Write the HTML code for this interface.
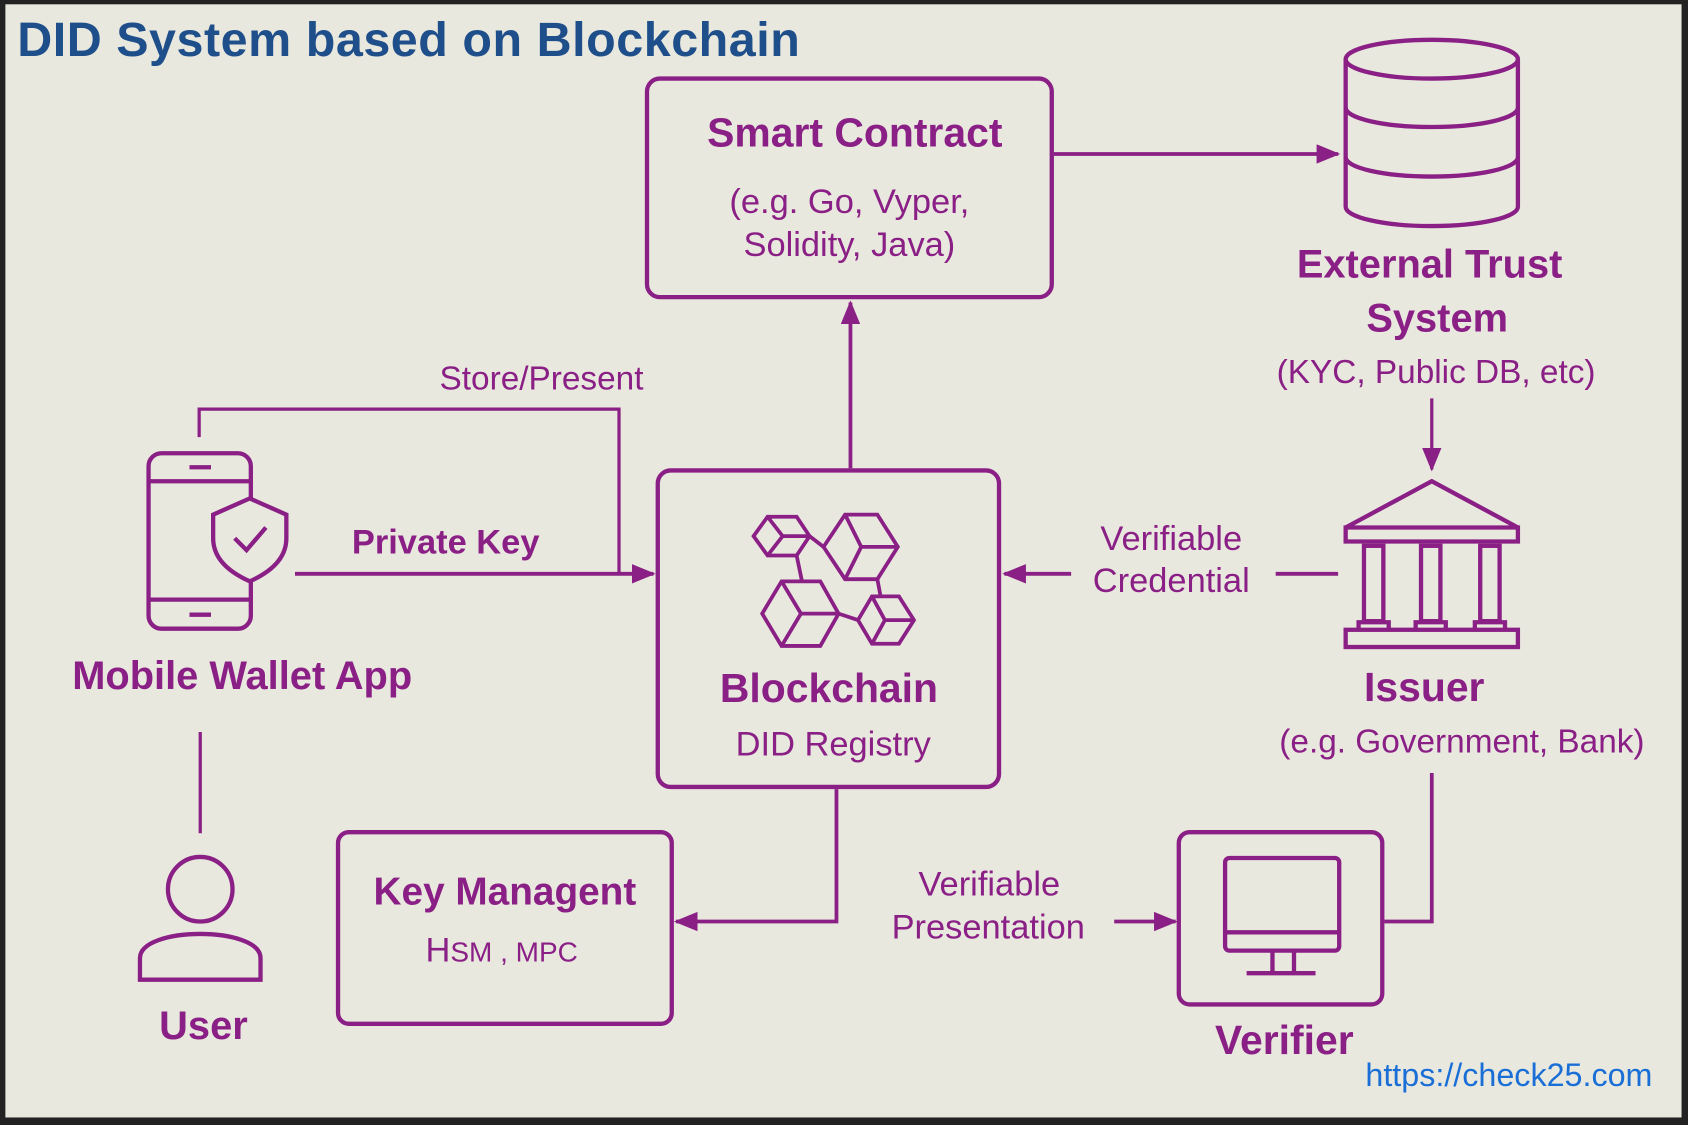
<!DOCTYPE html>
<html><head><meta charset="utf-8"><style>
html,body{margin:0;padding:0;background:#1a1a1a;}
svg{display:block;}
text{font-family:"Liberation Sans",sans-serif;}
</style></head><body>
<svg width="1688" height="1125" viewBox="0 0 1568 1045" preserveAspectRatio="none" xmlns="http://www.w3.org/2000/svg">
<defs>
<marker id="b" markerWidth="22" markerHeight="18" refX="20" refY="9" orient="auto" markerUnits="userSpaceOnUse"><path d="M0,0 L22,9 L0,18 Z" fill="#8a1f85"/></marker></defs>
<rect x="0" y="0" width="1568" height="1045" fill="#222"/>
<rect x="5" y="4" width="1557" height="1034" fill="#e9e8df"/>
<text x="16" y="52" font-size="45" font-weight="bold" fill="#1f4f8a" textLength="727" lengthAdjust="spacing">DID System based on Blockchain</text>
<g fill="none" stroke="#8a1f85" stroke-width="4">
<rect x="601" y="73" width="376" height="203" rx="12"/>
<rect x="611" y="437" width="317" height="294" rx="12"/>
<rect x="314" y="773" width="310" height="178" rx="10"/>
<rect x="1095" y="773" width="189" height="160" rx="10"/>
<ellipse cx="1330" cy="55" rx="80" ry="18"/>
<path d="M1250,55 V192 A80,18 0 0 0 1410,192 V55"/>
<path d="M1250,100 A80,18 0 0 0 1410,100 M1250,146 A80,18 0 0 0 1410,146"/>
<rect x="138" y="421" width="95" height="163" rx="12"/>
<path d="M138,447 H233 M138,557 H233 M176,434 H196 M176,571 H196"/>
<path d="M232,463 L266,478 V500 C266,520 250,532 232,540 C214,532 198,520 198,500 V478 Z" fill="#e9e8df"/>
<path d="M218,500 L229,511 L247,490"/>
<circle cx="186" cy="826" r="30"/>
<path d="M130,910 V890 C130,860 242,860 242,890 V910 Z"/>
<path d="M1250,490 L1330,447 L1410,490 Z M1250,490 H1410 V503 H1250 Z"/>
<rect x="1267" y="507" width="18" height="70"/><rect x="1320" y="507" width="18" height="70"/><rect x="1375" y="507" width="18" height="70"/>
<rect x="1250" y="585" width="160" height="16"/>
<path d="M1262,585 V578 H1290 V585 M1315,585 V578 H1343 V585 M1370,585 V578 H1398 V585"/>
<rect x="1138" y="797" width="106" height="86" rx="4"/>
<path d="M1138,866 H1244 M1182,883 V903 M1202,883 V903 M1158,904 H1222"/>
<g stroke-width="3.5">
<path d="M700,498 L713,480 L740,480 L752,498 L740,516 L713,516 Z M713,480 L727,498 L752,498 M727,498 L713,516"/>
<path d="M765,508 L785,478 L815,478 L834,508 L815,538 L785,538 Z M785,478 L800,508 L834,508 M800,508 L785,538"/>
<path d="M708,570 L726,540 L762,540 L779,570 L762,600 L726,600 Z M726,540 L744,570 L779,570 M744,570 L726,600"/>
<path d="M797,576 L810,554 L835,554 L849,576 L835,598 L810,598 Z M810,554 L822,576 L849,576 M822,576 L810,598"/>
<path d="M752,498 L765,508 M740,516 L745,540 M779,570 L797,576 M815,538 L818,554"/>
</g>
<path d="M979,143 H1243" marker-end="url(#b)" stroke-width="3.5"/>
<path d="M790,435 V281" marker-end="url(#b)" stroke-width="3.5"/>
<path d="M185,406 V380 H575 V532" stroke-width="3"/>
<path d="M274,533 H607" marker-end="url(#b)" stroke-width="3.5"/>
<path d="M1330,370 V436" marker-end="url(#b)" stroke-width="3"/>
<path d="M995,533 H933" marker-end="url(#b)" stroke-width="3.5"/>
<path d="M1185,533 H1243" stroke-width="3.5"/>
<path d="M186,680 V774" stroke-width="3"/>
<path d="M777,733 V856 H628" marker-end="url(#b)" stroke-width="3.5"/>
<path d="M1035,856 H1092" marker-end="url(#b)" stroke-width="3.5"/>
<path d="M1330,718 V856 H1286" stroke-width="3.5"/>
</g>
<g fill="#8a1f85" text-anchor="middle">
<text x="794" y="136" font-size="38" font-weight="bold">Smart Contract</text>
<text x="789" y="198" font-size="32">(e.g. Go, Vyper,</text>
<text x="789" y="238" font-size="32">Solidity, Java)</text>
<text x="1328" y="258" font-size="37" font-weight="bold">External Trust</text>
<text x="1335" y="308" font-size="37" font-weight="bold">System</text>
<text x="1334" y="356" font-size="31">(KYC, Public DB, etc)</text>
<text x="503" y="362" font-size="31">Store/Present</text>
<text x="414" y="514" font-size="32" font-weight="bold">Private Key</text>
<text x="225" y="640" font-size="37" font-weight="bold">Mobile Wallet App</text>
<text x="770" y="652" font-size="38" font-weight="bold">Blockchain</text>
<text x="774" y="702" font-size="32">DID Registry</text>
<text x="1088" y="511" font-size="32">Verifiable</text>
<text x="1088" y="550" font-size="32">Credential</text>
<text x="1323" y="651" font-size="38" font-weight="bold">Issuer</text>
<text x="1358" y="699" font-size="31">(e.g. Government, Bank)</text>
<text x="469" y="840" font-size="36" font-weight="bold">Key Managent</text>
<text x="466" y="893" font-size="32">H<tspan font-size="26">SM , MPC</tspan></text>
<text x="919" y="832" font-size="32">Verifiable</text>
<text x="918" y="872" font-size="32">Presentation</text>
<text x="189" y="965" font-size="37" font-weight="bold">User</text>
<text x="1193" y="979" font-size="38" font-weight="bold">Verifier</text>
</g>
<text x="1535" y="1009" font-size="30" fill="#1a6fd6" text-anchor="end">https://check25.com</text>
</svg>
</body></html>
